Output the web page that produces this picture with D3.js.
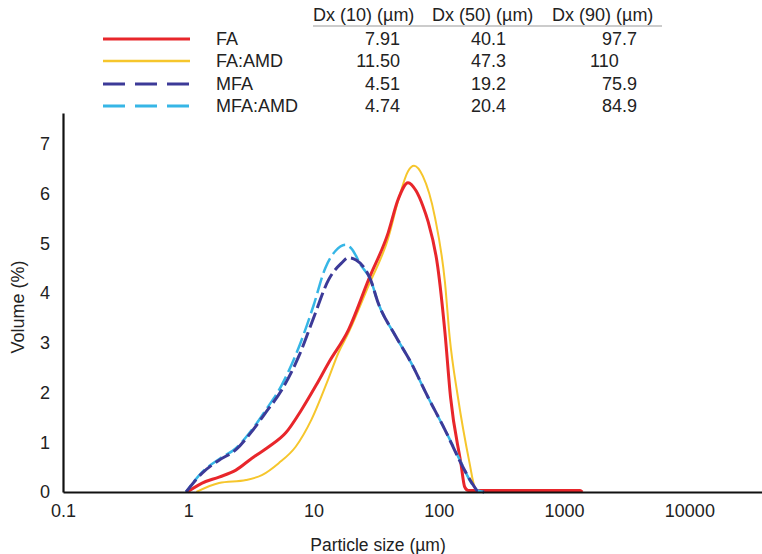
<!DOCTYPE html>
<html lang="en">
<head>
<meta charset="UTF-8">
<title>Particle size distribution</title>
<style>
  body { margin: 0; background: #fff; font-family: "Liberation Sans", Arial, Helvetica, sans-serif; }
  svg text { fill: #222; }
</style>
</head>
<body>
<svg width="762" height="554"></svg>
<script src="https://cdn.jsdelivr.net/npm/d3@7"></script>
<script>
// particle size (um), volume (%)
var fa = [[0.98,0],[1.29,0.18],[1.76,0.30],[2.40,0.44],[3.22,0.68],[4.39,0.91],[6.0,1.19],[8.0,1.65],
  [10.5,2.15],[13.2,2.6],[19,3.26],[27.5,4.27],[39.4,5.21],[47.3,5.88],[56.8,6.22],[66,6.05],[74.6,5.75],
  [81.8,5.45],[98,4.53],[112,3.2],[124,1.91],[150,0.58],[161,0.10],[172,0.03],[1340,0.03],[1400,0]];
var faAmd = [[1.16,0],[1.76,0.18],[2.89,0.24],[3.87,0.34],[5.27,0.58],[7.2,0.91],[9.6,1.45],[13.2,2.29],
  [15.8,2.8],[19,3.2],[27.5,4.15],[39.4,5.1],[47.3,5.85],[56.8,6.45],[63.4,6.56],[74.6,6.35],[93,5.53],
  [112,4.21],[122,3.12],[142,1.91],[176,0.58],[193,0.10],[205,0.02],[260,0]];
var mfa = [[0.96,0],[1.29,0.38],[1.76,0.64],[2.40,0.85],[3.22,1.22],[4.16,1.6],[5.57,2.05],[7.6,2.72],
  [10,3.5],[13.2,4.27],[16.7,4.6],[19,4.71],[22,4.66],[26,4.47],[28.5,4.27],[32.8,3.8],[44.8,3.15],
  [60,2.6],[81.8,1.91],[112,1.25],[150,0.58],[193,0.10],[204,0.02],[230,0]];
var mfaAmd = [[0.96,0],[1.29,0.40],[1.76,0.66],[2.40,0.88],[3.22,1.25],[4.16,1.65],[5.57,2.15],[7.6,2.9],
  [10,3.75],[12.4,4.5],[15,4.85],[18,4.97],[20,4.9],[24,4.55],[28.5,4.27],[32.8,3.8],[44.8,3.15],
  [60,2.6],[81.8,1.91],[112,1.25],[150,0.6],[180,0.2],[204,0.03],[230,0]];

var seriesNames = ["FA", "FA:AMD", "MFA", "MFA:AMD"];
var dx10 = ["7.91", "11.50", "4.51", "4.74"];
var dx50 = ["40.1", "47.3", "19.2", "20.4"];
var dx90 = ["97.7", "110", "75.9", "84.9"];
var tableHeads = ["Dx (10) (\u00b5m)", "Dx (50) (\u00b5m)", "Dx (90) (\u00b5m)"];
var xTicks = [0.1, 1, 10, 100, 1000, 10000];
var yTicks = [0, 1, 2, 3, 4, 5, 6, 7];

var colors = ["#e8262b", "#f6c62c", "#3c3a98", "#36b6e6"];
var widths = [3, 2, 3, 2.5];
var dashes = [null, null, "16,5", "16,5"];
var series = [fa, faAmd, mfa, mfaAmd];

var svg = d3.select("svg");
var x = d3.scaleLog().domain([0.1, 38000]).range([63, 762]);
var y = d3.scaleLinear().domain([0, 7.62]).range([492, 113]);

var line = d3.line()
    .x(function(d) { return x(d[0]); })
    .y(function(d) { return y(d[1]); })
    .curve(d3.curveMonotoneX);

// curves, FA:AMD first so the red one sits on top as in the figure
var order = [1, 0, 3, 2];
order.forEach(function(i) {
  svg.append("path")
      .datum(series[i])
      .attr("d", line)
      .attr("fill", "none")
      .attr("stroke", colors[i])
      .attr("stroke-width", widths[i])
      .attr("stroke-dasharray", dashes[i])
      .attr("stroke-dashoffset", i == 3 ? 8 : 0)
      .attr("stroke-linejoin", "round");
});

// axes, no tick marks
var xAxis = svg.append("g")
    .attr("transform", "translate(0,492)")
    .call(d3.axisBottom(x).tickValues(xTicks).tickSize(0).tickPadding(12).tickFormat(d3.format("")));
var yAxis = svg.append("g")
    .attr("transform", "translate(63,0)")
    .call(d3.axisLeft(y).tickValues(yTicks).tickSize(0).tickPadding(13));
[xAxis, yAxis].forEach(function(a) {
  a.select(".domain").attr("stroke", "#111").attr("stroke-width", 2.2);
  a.selectAll("text").attr("font-size", 18).attr("font-family", "Liberation Sans, Arial, sans-serif").attr("fill", "#222");
});

svg.append("text")
    .attr("x", 378).attr("y", 551)
    .attr("text-anchor", "middle")
    .attr("font-size", 17.5)
    .text("Particle size (\u00b5m)");
svg.append("text")
    .attr("transform", "translate(24,307) rotate(-90)")
    .attr("text-anchor", "middle")
    .attr("font-size", 18)
    .text("Volume (%)");

// legend + table
var rowY = [45, 67, 90, 112];
var legend = svg.append("g");
seriesNames.forEach(function(name, i) {
  legend.append("line")
      .attr("x1", 103).attr("x2", 190)
      .attr("y1", rowY[i] - 6).attr("y2", rowY[i] - 6)
      .attr("stroke", colors[i])
      .attr("stroke-width", i == 1 ? 2.5 : 3)
      .attr("stroke-dasharray", dashes[i] ? "22,10" : null);
  legend.append("text").attr("x", 216).attr("y", rowY[i]).attr("font-size", 18).text(name);
  legend.append("text").attr("x", 400).attr("y", rowY[i]).attr("text-anchor", "end").attr("font-size", 18).text(dx10[i]);
  legend.append("text").attr("x", 506).attr("y", rowY[i]).attr("text-anchor", "end").attr("font-size", 18).text(dx50[i]);
  legend.append("text").attr("x", i == 1 ? 590 : 637).attr("y", rowY[i])
      .attr("text-anchor", i == 1 ? "start" : "end").attr("font-size", 18).text(dx90[i]);
});
var headX = [313, 432, 552];
tableHeads.forEach(function(h, i) {
  legend.append("text").attr("x", headX[i]).attr("y", 21).attr("font-size", 18).text(h);
});
legend.append("line")
    .attr("x1", 313).attr("x2", 662).attr("y1", 26).attr("y2", 26)
    .attr("stroke", "#999").attr("stroke-width", 1.2);
</script>
</body>
</html>
